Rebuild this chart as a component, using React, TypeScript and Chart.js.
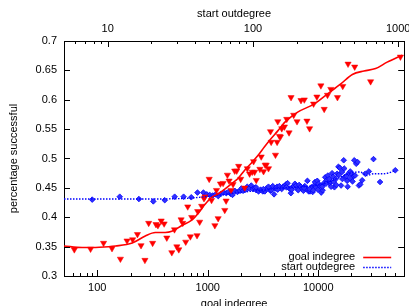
import React, { useEffect, useRef } from 'react';
import { Chart, registerables } from 'chart.js';

Chart.register(...registerables);

// goal indegree (bottom log axis) vs percentage successful
const goalIndegree = [
  62, 87, 114, 136, 162, 186, 209, 231, 249, 270, 292, 317, 340, 354, 379, 403, 426, 473, 500, 525,
  547, 574, 594, 632, 659, 696, 716, 800, 811, 845, 881, 925, 944, 1031, 1082, 1160, 1200, 1242, 1303, 1377,
  1426, 1466, 1507, 1560, 1626, 1695, 1754, 1828, 1905, 1986, 2158, 2281, 2393, 2529, 2600, 2655, 2748, 2965, 3048, 3199,
  3311, 3381, 3548, 3698, 3750, 4102, 4246, 4305, 4457, 4550, 4677, 4943, 5188, 5445, 5675, 5998, 6427, 6982, 7482, 7907,
  8356, 9078, 9727, 10568, 11324, 12134, 13002, 14928, 16672, 18621, 21380, 29785, 55460,
];
const goalSuccess = [
  0.345, 0.346, 0.356, 0.347, 0.329, 0.36, 0.362, 0.371, 0.352, 0.327, 0.39, 0.356, 0.388, 0.386, 0.394, 0.389, 0.365, 0.34, 0.379, 0.35,
  0.345, 0.396, 0.39, 0.358, 0.418, 0.367, 0.4, 0.369, 0.41, 0.392, 0.419, 0.432, 0.435, 0.465, 0.429, 0.386, 0.446, 0.398, 0.457, 0.458,
  0.412, 0.428, 0.472, 0.462, 0.446, 0.456, 0.479, 0.479, 0.487, 0.465, 0.45, 0.483, 0.474, 0.477, 0.495, 0.477, 0.463, 0.482, 0.503, 0.478,
  0.489, 0.489, 0.483, 0.546, 0.528, 0.506, 0.528, 0.563, 0.538, 0.537, 0.551, 0.554, 0.567, 0.544, 0.604, 0.574, 0.563, 0.599, 0.6, 0.564,
  0.551, 0.593, 0.605, 0.624, 0.584, 0.608, 0.618, 0.604, 0.623, 0.661, 0.656, 0.631, 0.673,
];
// smoothed goal indegree curve
const goalCurveIndegree = [
  50, 73, 104, 146, 207, 272, 335, 412, 473, 582, 716, 822, 944, 1082, 1243, 1426, 1637, 1879, 2158, 2477,
  2844, 3265, 3749, 4305, 4943, 5675, 6516, 9204, 12134, 15996, 20370, 25940, 33040, 42070, 57400,
];
const goalCurveSuccess = [
  0.351, 0.3485, 0.349, 0.351, 0.356, 0.368, 0.374, 0.374, 0.376, 0.386, 0.395, 0.407, 0.422, 0.434, 0.44, 0.448, 0.457, 0.466, 0.48, 0.492,
  0.505, 0.52, 0.534, 0.547, 0.561, 0.571, 0.579, 0.593, 0.61, 0.627, 0.643, 0.649, 0.653, 0.664, 0.676,
];

// start outdegree (top log axis) vs percentage successful
const startOutdegree = [
  7.82, 12.1, 16.4, 20.6, 24.7, 28.9, 33.3, 37.6, 41.5, 45.6, 48.1, 50.4, 52.8, 55.4, 57.7, 60.2, 62.8, 65.5, 67.6, 70,
  72.3, 75, 78.2, 81.5, 83.2, 85.5, 88.7, 91.4, 94.4, 97.4, 100, 102.6, 105.4, 109.3, 112.8, 116.9, 120.7, 123.9, 127.9, 131.9,
  136.8, 139.7, 142.8, 146.6, 152, 157.7, 161.1, 164.4, 168.8, 173.2, 177.8, 182.5, 186.4, 190.4, 194.4, 198.5, 202.6, 208, 213.6, 218.1,
  222.7, 227.4, 233.4, 237.1, 242.1, 247.2, 252.4, 257.7, 263.1, 267.4, 271.6, 277.3, 283.1, 289.1, 295.1, 301.7, 308.1, 314.5, 321.1, 327.8,
  334.7, 341.7, 350.6, 356.4, 363.9, 371.5, 379.8, 387.8, 396, 404.3, 412.8, 421.7, 430.5, 439.5, 448.7, 458.1, 467.7, 478.2, 488.2, 498.4,
  514, 524.8, 536.5, 548.3, 565, 592.9, 628, 676, 750, 955,
  105, 118, 134, 148, 170, 185, 205, 225, 245, 260, 280, 300, 318, 335, 345, 360, 375, 390, 410, 425, 445, 470, 485, 505,
];
const startSuccess = [
  0.43, 0.435, 0.431, 0.427, 0.429, 0.435, 0.435, 0.434, 0.442, 0.442, 0.439, 0.438, 0.437, 0.439, 0.436, 0.44, 0.442, 0.441, 0.443, 0.44,
  0.438, 0.445, 0.443, 0.445, 0.449, 0.445, 0.447, 0.452, 0.449, 0.454, 0.448, 0.45, 0.446, 0.444, 0.447, 0.444, 0.444, 0.449, 0.452, 0.445,
  0.453, 0.439, 0.449, 0.452, 0.453, 0.448, 0.452, 0.453, 0.456, 0.458, 0.449, 0.441, 0.451, 0.453, 0.457, 0.454, 0.448, 0.455, 0.452, 0.448,
  0.445, 0.453, 0.448, 0.462, 0.444, 0.444, 0.451, 0.443, 0.454, 0.46, 0.451, 0.462, 0.457, 0.453, 0.442, 0.446, 0.458, 0.468, 0.463, 0.471,
  0.458, 0.461, 0.475, 0.469, 0.451, 0.465, 0.474, 0.486, 0.484, 0.454, 0.465, 0.497, 0.469, 0.47, 0.452, 0.475, 0.478, 0.474, 0.469, 0.497,
  0.491, 0.494, 0.454, 0.456, 0.463, 0.474, 0.478, 0.499, 0.46, 0.48,
  0.451, 0.448, 0.446, 0.447, 0.451, 0.447, 0.446, 0.45, 0.448, 0.446, 0.447, 0.452, 0.457, 0.465, 0.452, 0.46, 0.455, 0.472, 0.477, 0.483, 0.462, 0.466, 0.461, 0.471,
];
// smoothed start outdegree curve
const startCurveOutdegree = [5, 14.8, 34.2, 46.8, 64.1, 87.7, 120, 164, 225, 308, 380, 468, 548, 608, 676, 791, 955];
const startCurveSuccess = [0.431, 0.431, 0.432, 0.435, 0.439, 0.443, 0.447, 0.45, 0.452, 0.457, 0.466, 0.475, 0.477, 0.471, 0.474, 0.474, 0.479];

const goalTickLabels = [100, 1000, 10000];
const startTickLabels = [10, 100, 1000];
const seriesNames = ['goal indegree', 'start outdegree'];
const bottomTitle = 'goal indegree';
const topTitle = 'start outdegree';
const leftTitle = 'percentage successful';

const FAMILY = '"Liberation Sans", Arial, Helvetica, sans-serif';
const RED = '#ff0000';
const BLUE = '#0000ff';

const isPow10 = (v: number) => {
  const l = Math.log10(v);
  return Math.abs(l - Math.round(l)) < 1e-6;
};
const isDecadeMultiple = (v: number) => {
  const e = Math.floor(Math.log10(v) + 1e-9);
  const m = v / Math.pow(10, e);
  return Math.abs(m - Math.round(m)) < 1e-6;
};

const innerTicks = {
  id: 'innerTicks',
  afterDatasetsDraw(chart: any) {
    const { ctx, chartArea: a, scales } = chart;
    ctx.save();
    ctx.strokeStyle = '#000';
    ctx.lineWidth = 1;
    ctx.beginPath();
    ['x', 'x2'].forEach((id) => {
      const s = scales[id];
      s.ticks.forEach((t: any) => {
        const v = t.value;
        if (v < s.min || v > s.max || !isDecadeMultiple(v)) return;
        const px = Math.round(s.getPixelForValue(v)) + 0.5;
        const len = isPow10(v) ? 6 : 3;
        if (id === 'x') {
          ctx.moveTo(px, a.bottom);
          ctx.lineTo(px, a.bottom - len);
        } else {
          ctx.moveTo(px, a.top);
          ctx.lineTo(px, a.top + len);
        }
      });
    });
    const y = scales.y;
    y.ticks.forEach((t: any) => {
      const py = Math.round(y.getPixelForValue(t.value)) + 0.5;
      ctx.moveTo(a.left, py);
      ctx.lineTo(a.left + 6, py);
      ctx.moveTo(a.right, py);
      ctx.lineTo(a.right - 6, py);
    });
    ctx.stroke();
    ctx.restore();
  },
};

const gnuLegend = {
  id: 'gnuLegend',
  afterDraw(chart: any) {
    const { ctx, chartArea: a } = chart;
    const items = chart.data.datasets.filter((d: any) => d.label);
    ctx.save();
    ctx.font = `11px ${FAMILY}`;
    ctx.textAlign = 'right';
    ctx.textBaseline = 'middle';
    items.forEach((d: any, i: number) => {
      const y = a.bottom - 19 + i * 10;
      ctx.fillStyle = '#000';
      ctx.fillText(d.label, a.right - 49, y);
      ctx.beginPath();
      ctx.strokeStyle = d.borderColor;
      ctx.lineWidth = d.borderWidth;
      ctx.setLineDash(d.borderDash || []);
      ctx.moveTo(a.right - 41, y + 0.5);
      ctx.lineTo(a.right - 13, y + 0.5);
      ctx.stroke();
    });
    ctx.restore();
  },
};

const tickFont = { family: FAMILY, size: 11 };

export default function App() {
  const ref = useRef<HTMLCanvasElement | null>(null);

  useEffect(() => {
    if (!ref.current) return;
    const goalPoints = goalIndegree.map((x, i) => ({ x, y: goalSuccess[i] }));
    const goalCurve = goalCurveIndegree.map((x, i) => ({ x, y: goalCurveSuccess[i] }));
    const startPoints = startOutdegree.map((x, i) => ({ x, y: startSuccess[i] }));
    const startCurve = startCurveOutdegree.map((x, i) => ({ x, y: startCurveSuccess[i] }));

    const chart = new Chart(ref.current, {
      type: 'scatter',
      data: {
        datasets: [
          {
            label: seriesNames[0],
            data: goalCurve,
            showLine: true,
            borderColor: RED,
            borderWidth: 1.6,
            pointRadius: 0,
            cubicInterpolationMode: 'monotone',
            xAxisID: 'x',
            yAxisID: 'y',
          },
          {
            label: seriesNames[1],
            data: startCurve,
            showLine: true,
            borderColor: BLUE,
            borderWidth: 1.4,
            borderDash: [1.5, 1.5],
            pointRadius: 0,
            cubicInterpolationMode: 'monotone',
            xAxisID: 'x2',
            yAxisID: 'y',
          },
          {
            data: goalPoints,
            pointStyle: 'triangle',
            rotation: 180,
            pointRadius: 3.6,
            backgroundColor: RED,
            borderColor: RED,
            borderWidth: 0.5,
            xAxisID: 'x',
            yAxisID: 'y',
          },
          {
            data: startPoints,
            pointStyle: 'rectRot',
            pointRadius: 2.8,
            backgroundColor: '#3030ff',
            borderColor: BLUE,
            borderWidth: 0.8,
            xAxisID: 'x2',
            yAxisID: 'y',
          },
        ],
      },
      options: {
        responsive: false,
        animation: false,
        devicePixelRatio: 1,
        layout: { padding: 0 },
        plugins: { legend: { display: false }, tooltip: { enabled: false } },
        scales: {
          x: {
            type: 'logarithmic',
            position: 'bottom',
            min: 50,
            max: 60000,
            title: { display: true, text: bottomTitle, color: '#000', font: tickFont, padding: { top: 0, bottom: -5 } },
            ticks: {
              autoSkip: false,
              maxRotation: 0,
              minRotation: 0,
              padding: 5,
              color: '#000',
              font: tickFont,
              callback: (v: any) => {
                const t = goalTickLabels.find((g) => Math.abs(g - Number(v)) < 1e-6);
                return t !== undefined ? String(t) : '';
              },
            },
            grid: { drawOnChartArea: false, drawTicks: false },
            border: { display: true, color: '#000', width: 1 },
            afterFit: (s: any) => {
              s.height = 30;
              s.paddingLeft = 0;
              s.paddingRight = 0;
            },
          },
          x2: {
            type: 'logarithmic',
            position: 'top',
            min: 5,
            max: 1100,
            title: { display: true, text: topTitle, color: '#000', font: tickFont, padding: { top: 7, bottom: 0 } },
            ticks: {
              autoSkip: false,
              maxRotation: 0,
              minRotation: 0,
              padding: 5,
              color: '#000',
              font: tickFont,
              callback: (v: any) => {
                const t = startTickLabels.find((g) => Math.abs(g - Number(v)) < 1e-6);
                return t !== undefined ? String(t) : '';
              },
            },
            grid: { drawOnChartArea: false, drawTicks: false },
            border: { display: true, color: '#000', width: 1 },
            afterFit: (s: any) => {
              s.height = 41;
              s.paddingLeft = 0;
              s.paddingRight = 0;
            },
          },
          y: {
            type: 'linear',
            position: 'left',
            min: 0.3,
            max: 0.7,
            title: { display: true, text: leftTitle, color: '#000', font: tickFont, padding: { top: 7.5, bottom: 0 } },
            ticks: {
              stepSize: 0.05,
              padding: 7,
              color: '#000',
              font: tickFont,
              callback: (v: any) => String(Number(Number(v).toFixed(2))),
            },
            grid: { drawOnChartArea: false, drawTicks: false },
            border: { display: true, color: '#000', width: 1 },
            afterFit: (s: any) => {
              s.width = 64;
              s.paddingTop = 0;
              s.paddingBottom = 0;
            },
          },
          y2: {
            type: 'linear',
            position: 'right',
            min: 0.3,
            max: 0.7,
            ticks: { display: false },
            grid: { drawOnChartArea: false, drawTicks: false },
            border: { display: true, color: '#000', width: 1 },
            afterFit: (s: any) => {
              s.width = 2;
              s.paddingTop = 0;
              s.paddingBottom = 0;
            },
          },
        },
      },
      plugins: [innerTicks, gnuLegend],
    } as any);

    return () => chart.destroy();
  }, []);

  return (
    <div style={{ position: 'absolute', left: 0, top: 0, width: 409, height: 306, background: '#fff' }}>
      <canvas ref={ref} width={409} height={306} style={{ display: 'block' }} />
    </div>
  );
}
